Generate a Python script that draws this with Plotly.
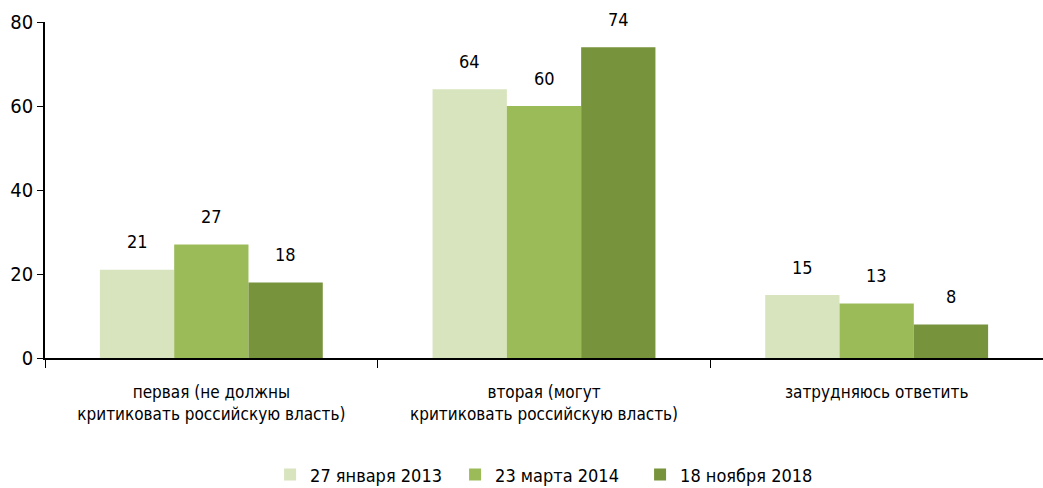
import plotly.graph_objects as go

categories = [
    "первая (не должны<br>критиковать российскую власть)",
    "вторая (могут<br>критиковать российскую власть)",
    "затрудняюсь ответить",
]
series_names = ["27 января 2013", "23 марта 2014", "18 ноября 2018"]
values_2013 = [21, 64, 15]
values_2014 = [27, 60, 13]
values_2018 = [18, 74, 8]
colors = ["#d7e4bd", "#9bbb59", "#77933c"]
y_ticks = [0, 20, 40, 60, 80]

FONT = "DejaVu Sans Condensed, Liberation Sans Narrow, sans-serif"

series = [values_2013, values_2014, values_2018]

fig = go.Figure()
for name, vals, col in zip(series_names, series, colors):
    fig.add_trace(go.Bar(
        x=categories, y=vals, name=name,
        marker=dict(color=col, line=dict(width=0)),
    ))

# value labels above each bar, offset horizontally to its slot in the group
plot_w = 1043 - 45
bargap = 0.33
bar_w = plot_w / len(categories) * (1 - bargap) / len(series)
for i, vals in enumerate(series):
    for cat, v in zip(categories, vals):
        fig.add_annotation(
            x=cat, y=v, text=str(v), showarrow=False,
            xref="x", yref="y", xshift=(i - 1) * bar_w,
            yanchor="middle", yshift=28,
            font=dict(family=FONT, size=18, color="#000000"),
        )

fig.update_layout(
    width=1043, height=488,
    margin=dict(l=45, r=0, t=22, b=130),
    paper_bgcolor="white", plot_bgcolor="white",
    barmode="group", bargap=bargap, bargroupgap=0,
    font=dict(family=FONT, size=17, color="#000000"),
    showlegend=True,
    legend=dict(
        orientation="h", x=0.525, xanchor="center",
        xref="container", yref="container",
        y=0.027, yanchor="middle",
        font=dict(family=FONT, size=18, color="#000000"),
        itemwidth=30, entrywidth=140, traceorder="normal",
    ),
    xaxis=dict(
        automargin=False,
        showline=True, linecolor="#000000", linewidth=1.5,
        ticks="outside", tickson="boundaries", ticklen=8,
        tickcolor="#000000", tickwidth=1,
        tickfont=dict(family=FONT, size=17, color="#000000"),
        ticklabelstandoff=18,
        showgrid=False, zeroline=False,
    ),
    yaxis=dict(
        automargin=False,
        range=[0, 80], tickvals=y_ticks,
        showline=True, linecolor="#000000", linewidth=1.5,
        ticks="outside", ticklen=6, tickcolor="#000000",
        tickfont=dict(family=FONT, size=20, color="#000000"),
        showgrid=False, zeroline=False,
    ),
)

fig.write_html("out.html")
